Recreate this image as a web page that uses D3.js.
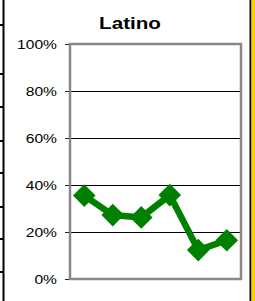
<!DOCTYPE html>
<html><head><meta charset="utf-8">
<script src="https://cdn.jsdelivr.net/npm/d3@7"></script>
<style>html,body{margin:0;padding:0;background:#fff;}svg{display:block;}</style>
</head><body>
<script>
const title = "Latino";
const categories = ["1","2","3","4","5","6"];
const values = [0.355, 0.272, 0.262, 0.357, 0.123, 0.165];
const yTicks = [0, 0.2, 0.4, 0.6, 0.8, 1.0];

const W = 255, H = 301;
const svg = d3.select("body").append("svg").attr("width", W).attr("height", H);
svg.append("rect").attr("width", W).attr("height", H).attr("fill", "#fff");

// decorations from neighbouring panels
svg.append("rect").attr("x", 2.5).attr("y", 0).attr("width", 2).attr("height", H).attr("fill", "#000");
[25, 74, 107, 141, 173, 207, 239, 272].forEach(y => {
  svg.append("rect").attr("x", 0).attr("y", y - 1).attr("width", 3).attr("height", 2).attr("fill", "#000");
});
svg.append("rect").attr("x", 249.5).attr("y", 0).attr("width", 2).attr("height", H).attr("fill", "#000");
svg.append("rect").attr("x", 251.5).attr("y", 0).attr("width", 3.5).attr("height", H).attr("fill", "#FFCC00");

const L = 70, R = 241, T = 44, B = 279;
const x = d3.scalePoint().domain(categories).range([L, R]).padding(0.5);
const y = d3.scaleLinear().domain([0, 1]).range([B, T]);

// gridlines
svg.append("g").selectAll("line").data(yTicks.filter(d => d > 0 && d < 1)).join("line")
  .attr("x1", L).attr("x2", R).attr("y1", d => y(d)).attr("y2", d => y(d))
  .attr("stroke", "#000").attr("stroke-width", 1).attr("shape-rendering", "crispEdges");

// plot border
svg.append("rect").attr("x", L).attr("y", T).attr("width", R - L).attr("height", B - T)
  .attr("fill", "none").attr("stroke", "#888").attr("stroke-width", 2.5);

// y axis ticks + labels
const axis = d3.axisLeft(y).tickValues(yTicks).tickSize(4).tickPadding(0).tickFormat(d3.format(".0%"));
const ag = svg.append("g").attr("transform", `translate(${L - 1},0)`).call(axis);
ag.select(".domain").remove();
ag.selectAll(".tick line").attr("stroke", "#222").attr("stroke-width", 1);
ag.selectAll(".tick text").remove();
yTicks.forEach(t => {
  svg.append("text")
    .attr("transform", `translate(57,${y(t) + 4.5}) scale(1.25,1)`)
    .attr("text-anchor", "end")
    .attr("font-family", "Liberation Sans, Arial, sans-serif")
    .attr("font-size", 12.5)
    .attr("fill", "#000")
    .text(d3.format(".0%")(t));
});

// title
svg.append("text")
  .attr("transform", `translate(130,29) scale(1.25,1)`)
  .attr("text-anchor", "middle")
  .attr("font-family", "Liberation Sans, Arial, sans-serif")
  .attr("font-weight", "bold")
  .attr("font-size", 16.5)
  .attr("fill", "#000")
  .text(title);

// line
const line = d3.line().x((d, i) => x(categories[i])).y(d => y(d));
svg.append("path").datum(values).attr("d", line)
  .attr("fill", "none").attr("stroke", "#008000").attr("stroke-width", 6.5).attr("stroke-linejoin", "round");

// markers
const s = 16;
svg.append("g").selectAll("rect").data(values).join("rect")
  .attr("x", -s / 2).attr("y", -s / 2).attr("width", s).attr("height", s)
  .attr("transform", (d, i) => `translate(${x(categories[i])},${y(d)}) rotate(45)`)
  .attr("fill", "#008000");
</script>
</body></html>
